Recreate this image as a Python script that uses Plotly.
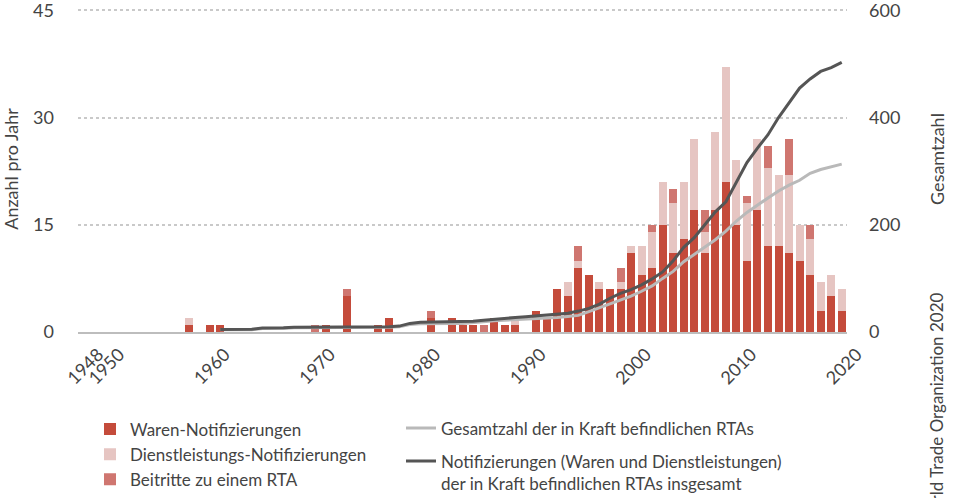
import plotly.graph_objects as go

# ---------------- data ----------------
bar_years = [1958, 1960, 1961, 1970, 1971, 1973, 1976, 1977, 1981, 1983, 1984, 1985,
             1986, 1987, 1988, 1989,
             1991, 1992, 1993, 1994, 1995, 1996, 1997, 1998, 1999, 2000,
             2001, 2002, 2003, 2004, 2005, 2006, 2007, 2008, 2009, 2010,
             2011, 2012, 2013, 2014, 2015, 2016, 2017, 2018, 2019, 2020]
goods = [1, 1, 1, 0, 1, 5, 1, 2, 2, 2, 1, 1, 0, 2, 1, 1,
         3, 2, 6, 5, 9, 8, 6, 6, 6, 11,
         8, 9, 15, 11, 13, 17, 11, 17, 21, 15,
         10, 17, 12, 12, 11, 10, 8, 3, 5, 3]
services = [1, 0, 0, 0, 0, 0, 0, 0, 0, 0, 0, 0, 0, 0, 0, 1,
            0, 0, 0, 2, 1, 0, 1, 0, 1, 1,
            4, 5, 6, 7, 8, 10, 3, 11, 16, 9,
            8, 10, 11, 10, 11, 5, 5, 4, 3, 3]
accessions = [0, 0, 0, 1, 0, 1, 0, 0, 1, 0, 0, 0, 1, 0, 0, 0,
              0, 0, 0, 0, 2, 0, 0, 0, 2, 0,
              0, 1, 0, 2, 0, 0, 3, 0, 0, 0,
              1, 0, 3, 0, 5, 0, 2, 0, 0, 0]

line_years = list(range(1961, 2021))
total_notifications = [4.5, 4.5, 4.5, 5, 7.5, 7.5, 8, 9, 9, 9,
                       9, 9, 9, 9, 9, 9.5, 10, 11, 16, 18,
                       18.5, 19, 19, 19, 20, 22, 24, 26, 27, 28.5,
                       30, 31, 33, 35, 39, 44, 52, 63, 72, 79,
                       88, 99, 112, 133, 158, 176, 200, 224, 243, 280,
                       316, 343, 368, 400, 427, 455, 472, 486, 493, 503]
total_rtas = [4, 4, 4, 4, 6.5, 6.5, 6.5, 8, 8, 8,
              8, 8, 8, 8, 8, 8, 9, 10, 14, 15.5,
              16, 16, 16, 16, 17, 19, 21, 22, 22, 23,
              24, 25, 27, 29, 31, 38, 45, 52, 59, 67,
              76, 86, 100, 113, 131, 145, 158, 172, 188, 207,
              223, 237, 250, 263, 274, 283, 296, 303, 308, 313]

x_tick_vals = [1948, 1950, 1960, 1970, 1980, 1990, 2000, 2010, 2020]
x_tick_text = ["1948", "1950", "1960", "1970", "1980", "1990", "2000", "2010", "2020"]
left_ticks = [0, 15, 30, 45]
right_ticks = [0, 200, 400, 600]

# ---------------- style ----------------
C_GOODS = "#c44b3b"
C_SERV = "#e6c5c2"
C_ACC = "#cf7670"
C_RTA = "#b9b9b9"
C_NOTIF = "#555555"
TXT = "#444444"
FONT = "Lato"

fig = go.Figure()
fig.add_trace(go.Bar(x=bar_years, y=goods, name="Waren-Notifizierungen",
                     marker=dict(color=C_GOODS, line=dict(width=0)),
                     legend="legend", legendgroup="a"))
fig.add_trace(go.Bar(x=bar_years, y=services, name="Dienstleistungs-Notifizierungen",
                     marker=dict(color=C_SERV, line=dict(width=0)),
                     legend="legend", legendgroup="b"))
fig.add_trace(go.Bar(x=bar_years, y=accessions, name="Beitritte zu einem RTA",
                     marker=dict(color=C_ACC, line=dict(width=0)),
                     legend="legend", legendgroup="c"))
fig.add_trace(go.Scatter(x=line_years, y=total_rtas, yaxis="y2", mode="lines",
                         name="Gesamtzahl der in Kraft befindlichen RTAs",
                         line=dict(color=C_RTA, width=3),
                         legend="legend2"))
fig.add_trace(go.Scatter(x=line_years, y=total_notifications, yaxis="y2", mode="lines",
                         name="Notifizierungen (Waren und Dienstleistungen)<br>der in Kraft befindlichen RTAs insgesamt",
                         line=dict(color=C_NOTIF, width=3),
                         legend="legend3"))

# plot area: x 78..847 px, y-axis 0 at 331.7 px, 45 at 10.7 px (range extended slightly)
PLOT_TOP = 331.7 - 321 * 45.6 / 45
PLOT_H = 331.7 - PLOT_TOP


def py(pix):
    return (331.7 - pix) / PLOT_H


leg_common = dict(xanchor="left", yanchor="top", orientation="v",
                  font=dict(size=17, color=TXT), bgcolor="rgba(0,0,0,0)",
                  itemwidth=30, traceorder="normal", valign="top")

fig.update_layout(
    width=954, height=498,
    margin=dict(l=78, r=107, t=PLOT_TOP, b=498 - 331.7, autoexpand=False),
    paper_bgcolor="white", plot_bgcolor="white",
    barmode="stack", bargap=0.24,
    font=dict(family=FONT, color=TXT, size=16),
    xaxis=dict(range=[1947.5, 2020.5], tickmode="array", tickvals=x_tick_vals,
               ticktext=x_tick_text, tickangle=-45, showgrid=False, zeroline=False,
               showline=True, linecolor="#bdbdbd", linewidth=2, ticks="",
               automargin=False, ticklabeloverflow="allow",
               tickfont=dict(size=18, color=TXT), ticklabelshift=15, ticklabelstandoff=3),
    yaxis=dict(range=[0, 45.6], tickmode="array", tickvals=left_ticks, showgrid=True,
               gridcolor="#c9c9c9", griddash="dot", gridwidth=1.5, zeroline=False,
               showline=False, ticks="", tickfont=dict(size=18, color=TXT),
               ticklabelstandoff=23, automargin=False, ticklabeloverflow="allow",
               title=dict(text="Anzahl pro Jahr", font=dict(size=18, color=TXT), standoff=13)),
    yaxis2=dict(range=[0, 608], overlaying="y", side="right", tickmode="array",
                tickvals=right_ticks, showgrid=False, zeroline=False, showline=False,
                ticks="", tickfont=dict(size=18, color=TXT), ticklabelstandoff=21,
                automargin=False, ticklabeloverflow="allow"),
    legend=dict(x=(90 - 78) / 769, y=py(411), tracegroupgap=11, **leg_common),
    legend2=dict(x=(401 - 78) / 769, y=py(410), **leg_common),
    legend3=dict(x=(401 - 78) / 769, y=py(443), **leg_common),
    showlegend=True,
)

# right axis title (sits slightly above the axis centre in the reference)
fig.add_annotation(text="Gesamtzahl", textangle=-90,
                   xref="paper", yref="paper", x=(937 - 78) / 769, y=py(159),
                   xanchor="center", yanchor="middle", showarrow=False,
                   font=dict(size=18, color=TXT))

fig.add_annotation(text="World Trade Organization 2020", textangle=-90,
                   xref="paper", yref="paper", x=(937 - 78) / 769, y=py(291),
                   xanchor="center", yanchor="top", showarrow=False,
                   font=dict(size=17, color=TXT))

fig.write_html("out.html", config={"displayModeBar": False},
               post_script="document.body.style.margin='0px';")
